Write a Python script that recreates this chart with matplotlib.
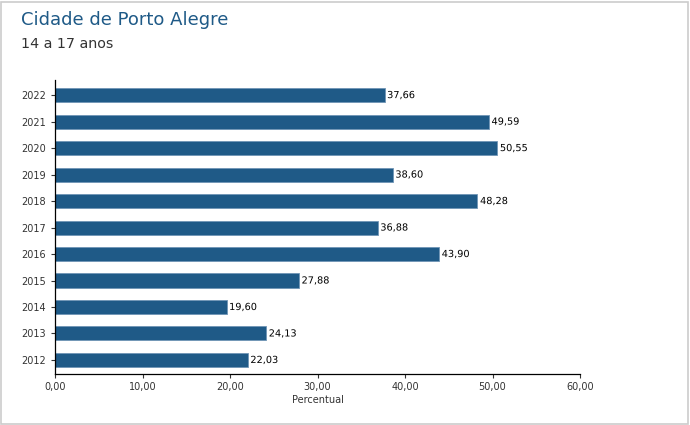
import matplotlib
matplotlib.use("Agg")
import matplotlib.pyplot as plt
import matplotlib.patheffects as pe
from matplotlib.patches import Rectangle

years = ["2012", "2013", "2014", "2015", "2016", "2017", "2018", "2019", "2020", "2021", "2022"]
values = [22.03, 24.13, 19.60, 27.88, 43.90, 36.88, 48.28, 38.60, 50.55, 49.59, 37.66]
xticks = [0, 10, 20, 30, 40, 50, 60]

W, H = 690, 425
fig = plt.figure(figsize=(W/100, H/100), dpi=100)
fig.patches.append(Rectangle((1/W, 1/H), 1 - 3/W, 1 - 3/H, transform=fig.transFigure,
                             fill=False, edgecolor="#cccccc", linewidth=1.2))

left, right, top, bottom = 55, 580, 80, 374
ax = fig.add_axes([left/W, 1 - bottom/H, (right-left)/W, (bottom-top)/H])

bar_color = "#1f5a87"
ypos = list(range(len(years)))
ax.barh(ypos, values, height=0.53, color=bar_color, edgecolor="#6f95b5", linewidth=0.6)
for y, v in zip(ypos, values):
    t = ax.text(v + 0.3, y, f"{v:.2f}".replace(".", ","), va="center", ha="left",
                fontsize=7, color="black", family="DejaVu Sans")
    t.set_path_effects([pe.withStroke(linewidth=2, foreground="white")])

ax.set_xlim(0, 60)
ax.set_ylim(-0.53, len(years) - 1 + 0.57)
ax.set_yticks(ypos)
ax.set_yticklabels(years)
ax.set_xticks(xticks)
ax.set_xticklabels([f"{x:.2f}".replace(".", ",") for x in xticks])
ax.tick_params(axis="both", labelsize=7, colors="#333333", length=3, width=0.8)
ax.tick_params(axis="x", pad=3)
for s in ["top", "right"]:
    ax.spines[s].set_visible(False)
for s in ["left", "bottom"]:
    ax.spines[s].set_color("black")
    ax.spines[s].set_linewidth(0.9)
ax.set_xlabel("Percentual", fontsize=7, color="#333333", labelpad=2)

fig.text(21/W, 1 - 20/H, "Cidade de Porto Alegre", fontsize=13, color="#1f5a87",
         va="center", ha="left")
fig.text(21/W, 1 - 44/H, "14 a 17 anos", fontsize=10.3, color="#333333",
         va="center", ha="left")

fig.savefig("out.png", dpi=100)
